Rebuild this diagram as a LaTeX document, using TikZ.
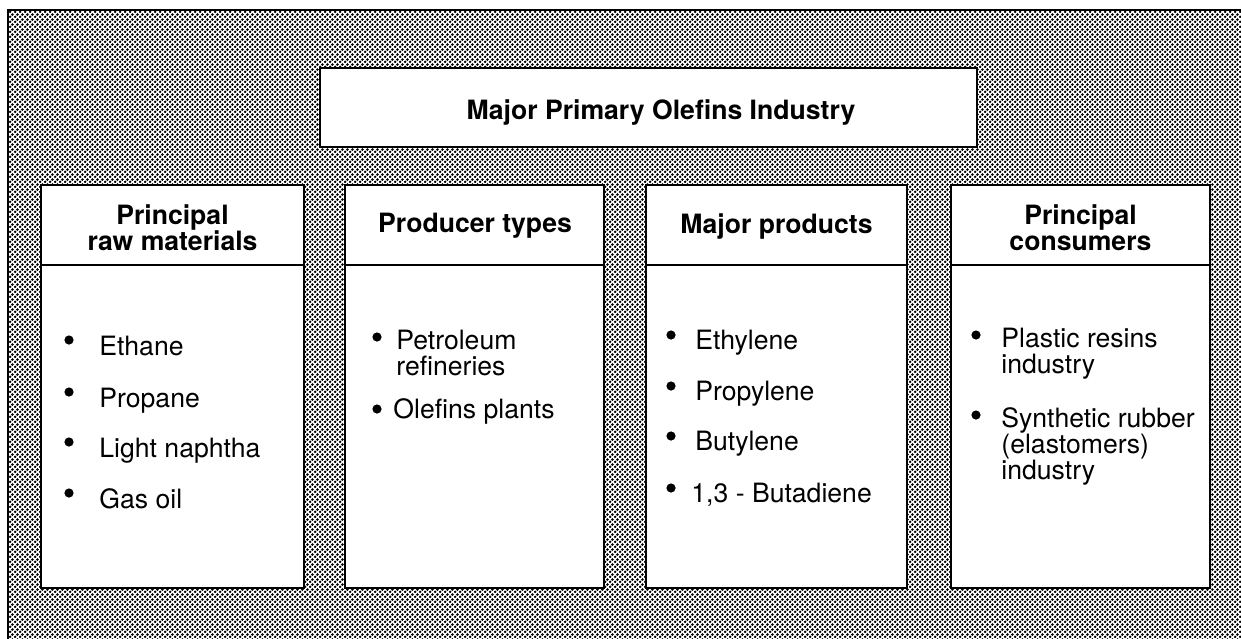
\documentclass[tikz,border=0pt]{standalone}
\usepackage{fontspec}
\setmainfont{TeX Gyre Heros}
\usepackage{tikz}
\usetikzlibrary{%
	patterns%
}
\tikzstyle{box}=[draw, fill=white, line width=1pt]
\tikzstyle{head}=[font=\bfseries\fontsize{13.3}{13}\selectfont, align=center, inner sep=0pt]
\tikzstyle{item}=[font=\fontsize{13.3}{12.8}\selectfont, align=left, anchor=base west, inner sep=0pt]

% halftone dots of the background
\pgfdeclarepatternformonly{halftone}{\pgfqpoint{0pt}{0pt}}{\pgfqpoint{2.4pt}{2.4pt}}{\pgfqpoint{2.4pt}{2.4pt}}{%
	\pgfpathcircle{\pgfqpoint{0.6pt}{0.6pt}}{0.74pt}
	\pgfpathcircle{\pgfqpoint{1.8pt}{1.8pt}}{0.74pt}
	\pgfusepath{fill}}

\begin{document}
\begin{tikzpicture}[x=0.5pt, y=-0.5pt]
				\useasboundingbox (0,0) rectangle (1241,638);
				\clip (0,0) rectangle (1241,638);
				
				% Background and frame
				\fill[pattern=halftone] (8,10) rectangle (1260,660);
				\draw[line width=1.3pt] (1260,10) -- (8,10) -- (8,660);
				
				% Title
				\draw[box] (320,68) rectangle (977,147);
				\node[head] (title) at (661,112) {Major Primary Olefins Industry};
				
				% Column boxes
				\foreach \x/\w in {41/263,345/259,646/261,951/259}
				{
				\draw[box] (\x,185) rectangle ++(\w,403);
				\draw[line width=1pt] (\x,265) -- ++(\w,0);
				}
				
				\node[head] (hraw) at (172.5,228) {Principal\\raw materials};
				\node[head] (hprod) at (475,226) {Producer types};
				\node[head] (hprodt) at (776.5,226) {Major products};
				\node[head] (hcons) at (1080.5,228) {Principal\\consumers};
				
				% Items (base = last line)
				\foreach \n/\y/\t in {1/355/Ethane,2/407/Propane,3/457/Light naphtha,4/508/Gas oil}
				{
				\fill (69,\y-15) circle (2.3pt);
				\node[item] (raw\n) at (99,\y) {\t};
				}
				
				\fill (377,337) circle (2.3pt);
				\node[item] (prod1) at (396,375) {Petroleum\\refineries};
				\fill (377,409) circle (2.3pt);
				\node[item] (prod2) at (393,418) {Olefins plants};
				
				\foreach \n/\x/\y/\t in {1/695/349/Ethylene,2/695/400/Propylene,3/695/450/Butylene,4/691/502/{1,3 - Butadiene}}
				{
				\fill (671,\y-14) circle (2.3pt);
				\node[item] (prodt\n) at (\x,\y) {\t};
				}
				
				\fill (976,335) circle (2.3pt);
				\node[item] (cons1) at (1001,373) {Plastic resins\\industry};
				\fill (976,415) circle (2.3pt);
				\node[item] (cons2) at (1001,479) {Synthetic rubber\\(elastomers)\\industry};
			\end{tikzpicture}
\end{document}
